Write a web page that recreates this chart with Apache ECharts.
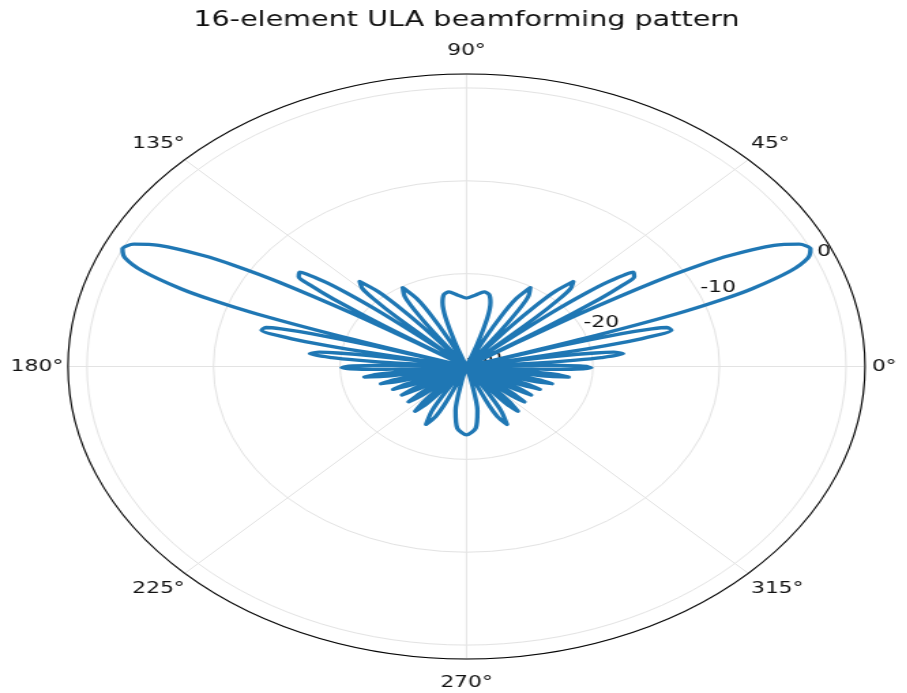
<!DOCTYPE html>
<html>
<head>
<meta charset="utf-8">
<script src="https://cdn.jsdelivr.net/npm/echarts@6/dist/echarts.min.js"></script>
<style>
  html, body { margin: 0; padding: 0; background: #ffffff; overflow: hidden; }
  #frame { width: 907px; height: 693px; overflow: hidden; position: relative; }
  /* the figure is drawn round and then widened to its elliptical aspect */
  #chart { width: 666px; height: 693px; transform: scaleX(1.3624); transform-origin: 0 0; }
</style>
</head>
<body>
<div id="frame"><div id="chart"></div></div>
<script>
// Compass ticks (degrees) and radial ticks (dB)
const angleTicks = [0, 45, 90, 135, 180, 225, 270, 315];
const radialTicks = [-30, -20, -10, 0];

// Array gain, upper half-plane: angle (deg) and level (dB, floored at -30)
const upperAngles = [
  0, 0.341, 0.938, 1.535, 2.730, 3.925, 4.524, 5.123, 6.322, 7.524,
  8.127, 8.731, 9.335, 9.940, 10.546, 11.154, 11.763, 12.374, 13.599, 14.830,
  15.448, 16.069, 16.691, 17.315, 17.690, 18.067, 18.820, 19.580, 20.340, 21.880,
  23.430, 25.000, 26.590, 28.200, 29.840, 30.675, 31.510, 32.351, 32.775, 33.203,
  33.920, 34.642, 35.371, 36.106, 37.598, 39.120, 39.894, 40.676, 41.469, 42.270,
  43.081, 43.904, 44.738, 45.585, 47.318, 49.108, 50.029, 50.967, 52.903, 54.930,
  55.983, 57.065, 59.330, 61.757, 63.045, 64.394, 67.312, 70.640, 72.530, 74.642,
  77.084, 80.104, 84.587, 90.000,
  95.413, 99.896, 102.916, 105.358, 107.470, 109.360, 112.688, 115.606, 116.955, 118.243,
  120.670, 122.935, 124.017, 125.070, 127.097, 129.033, 129.971, 130.892, 132.682, 134.415,
  135.262, 136.096, 136.919, 137.730, 138.531, 139.324, 140.106, 140.880, 142.402, 143.894,
  144.629, 145.358, 146.080, 146.797, 147.225, 147.649, 148.490, 149.325, 150.160, 151.800,
  153.410, 155.000, 156.570, 158.120, 159.660, 160.420, 161.180, 161.933, 162.310, 162.685,
  163.309, 163.931, 164.552, 165.170, 166.401, 167.626, 168.237, 168.846, 169.454, 170.060,
  170.665, 171.269, 171.873, 172.476, 173.678, 174.877, 175.476, 176.075, 177.270, 178.465,
  179.062, 179.659
];
const upperGainDb = [
  -20.49, -21.02, -22.59, -25.41, -30, -24.56, -21.31, -19.31, -17.55, -18.25,
  -19.71, -22.42, -27.81, -30, -27.13, -21.04, -17.64, -15.47, -13.34, -13.59,
  -14.80, -17.23, -22.31, -30, -25.60, -19.19, -12.58, -8.66, -5.92, -2.41,
  -0.58, 0, -0.58, -2.41, -5.92, -8.66, -12.58, -19.19, -25.60, -30,
  -22.31, -17.23, -14.80, -13.59, -13.34, -15.47, -17.64, -21.04, -27.13, -30,
  -27.81, -22.42, -19.71, -18.25, -17.55, -19.31, -21.31, -24.56, -30, -25.41,
  -22.59, -21.02, -20.13, -21.72, -23.63, -26.80, -30, -27.37, -24.49, -22.85,
  -22.03, -21.85, -22.26, -22.63,
  -22.26, -21.85, -22.03, -22.85, -24.49, -27.37, -30, -26.80, -23.63, -21.72,
  -20.13, -21.02, -22.59, -25.41, -30, -24.56, -21.31, -19.31, -17.55, -18.25,
  -19.71, -22.42, -27.81, -30, -27.13, -21.04, -17.64, -15.47, -13.34, -13.59,
  -14.80, -17.23, -22.31, -30, -25.60, -19.19, -12.58, -8.66, -5.92, -2.41,
  -0.58, 0, -0.58, -2.41, -5.92, -8.66, -12.58, -19.19, -25.60, -30,
  -22.31, -17.23, -14.80, -13.59, -13.34, -15.47, -17.64, -21.04, -27.13, -30,
  -27.81, -22.42, -19.71, -18.25, -17.55, -19.31, -21.31, -24.56, -30, -25.41,
  -22.59, -21.02
];

// Array gain, lower half-plane
const lowerAngles = [
  180, 180.853, 182.046, 182.644, 183.242, 184.438, 185.636, 186.250, 186.837, 188.041,
  189.248, 189.853, 190.460, 191.676, 192.898, 193.511, 194.126, 195.360, 196.601, 197.226,
  197.851, 199.110, 200.378, 201.016, 201.657, 202.947, 204.249, 204.906, 205.566, 206.896,
  208.243, 208.923, 209.607, 210.989, 212.392, 213.101, 213.818, 215.266, 216.742, 217.491,
  218.247, 219.783, 221.354, 222.154, 222.965, 224.618, 226.320, 227.192, 228.078, 229.897,
  231.786, 232.785, 233.760, 235.830, 238.017, 239.163, 240.348, 242.858, 245.604, 247.091,
  248.678, 252.247, 256.708, 259.619, 263.746, 270,
  276.254, 280.381, 283.292, 287.753, 291.322, 292.909, 294.396, 297.142, 299.652, 300.837,
  301.983, 304.170, 306.240, 307.215, 308.214, 310.103, 311.922, 312.808, 313.680, 315.382,
  317.035, 317.846, 318.646, 320.217, 321.753, 322.509, 323.258, 324.734, 326.182, 326.899,
  327.608, 329.011, 330.393, 331.077, 331.757, 333.104, 334.434, 335.094, 335.751, 337.053,
  338.343, 338.984, 339.622, 340.890, 342.149, 342.774, 343.399, 344.640, 345.874, 346.489,
  347.102, 348.324, 349.540, 350.147, 350.752, 351.959, 353.163, 353.750, 354.364, 355.562,
  356.758, 357.356, 357.954, 359.147, 360
];
const lowerGainDb = [
  -20.49, -20.13, -21.72, -23.63, -26.80, -30, -27.37, -24.49, -22.85, -21.85,
  -23.32, -25.19, -28.30, -30, -28.68, -25.76, -24.08, -22.99, -24.39, -26.22,
  -29.29, -30, -29.53, -26.57, -24.86, -23.70, -25.03, -26.83, -29.87, -30,
  -29.99, -27.00, -25.26, -24.04, -25.31, -27.08, -30, -30, -30, -27.08,
  -25.31, -24.04, -25.26, -27.00, -29.99, -30, -29.87, -26.83, -25.03, -23.70,
  -24.86, -26.57, -29.53, -30, -29.29, -26.22, -24.39, -22.99, -24.08, -25.76,
  -28.68, -30, -28.30, -25.19, -23.32, -22.63,
  -23.32, -25.19, -28.30, -30, -28.68, -25.76, -24.08, -22.99, -24.39, -26.22,
  -29.29, -30, -29.53, -26.57, -24.86, -23.70, -25.03, -26.83, -29.87, -30,
  -29.99, -27.00, -25.26, -24.04, -25.31, -27.08, -30, -30, -30, -27.08,
  -25.31, -24.04, -25.26, -27.00, -29.99, -30, -29.87, -26.83, -25.03, -23.70,
  -24.86, -26.57, -29.53, -30, -29.29, -26.22, -24.39, -22.99, -24.08, -25.76,
  -28.68, -30, -28.30, -25.19, -23.32, -21.85, -22.85, -24.49, -27.37, -30,
  -26.80, -23.63, -21.72, -20.13, -20.49
];

const FONT = 'DejaVu Sans';
const TEXT = '#111111';
const GRID = '#e3e3e3';
const CENTER = [342.4, 366.5];
const RADIUS = 292.5;
const R_MIN = radialTicks[0];
const R_MAX = 1.5;

const gainSeries = upperAngles.map((a, i) => [upperGainDb[i], a])
  .concat(lowerAngles.map((a, i) => [lowerGainDb[i], a]));

// per-label padding [top, right, bottom, left] for the compass labels
const labelPad = {
  0: [0, 0, 0, 5], 45: [0, 0, 8, 2], 90: [0, 0, 15, 0], 135: [0, 0, 8, 0],
  180: [0, 3.5, 0, 0], 225: [8, 0, 0, 0], 270: [16, 0, 0, 0], 315: [8, 0, 0, 2]
};
const rich = {};
angleTicks.forEach(t => {
  rich['a' + t] = { fontFamily: FONT, fontSize: 16, color: TEXT, padding: labelPad[t] };
});

const chart = echarts.init(document.getElementById('chart'), null, { renderer: 'canvas' });
chart.setOption({
  animation: false,
  backgroundColor: '#ffffff',
  title: {
    text: '16-element ULA beamforming pattern',
    left: CENTER[0],
    textAlign: 'center',
    top: 10,
    padding: 0,
    textStyle: { fontFamily: FONT, fontSize: 21, fontWeight: 'normal', color: TEXT }
  },
  polar: [
    { center: CENTER, radius: RADIUS },
    { center: CENTER, radius: RADIUS }
  ],
  angleAxis: [
    {
      polarIndex: 0,
      type: 'value',
      startAngle: 0,
      clockwise: false,
      min: 0,
      max: 360,
      interval: 45,
      z: 1,
      axisLine: { show: true, lineStyle: { color: '#000000', width: 1.1 } },
      axisTick: { show: false },
      splitLine: { show: true, lineStyle: { color: GRID, width: 1 } },
      axisLabel: {
        margin: 0,
        rich: rich,
        formatter: v => (angleTicks.indexOf(v) >= 0 ? '{a' + v + '|' + v + '°}' : '')
      }
    },
    {
      polarIndex: 1,
      type: 'value',
      startAngle: 22.5,
      clockwise: false,
      min: 0,
      max: 360,
      show: false
    }
  ],
  radiusAxis: [
    {
      polarIndex: 0,
      type: 'value',
      min: R_MIN,
      max: R_MAX,
      interval: 10,
      z: 0,
      axisLine: { show: false },
      axisTick: { show: false },
      axisLabel: { show: false },
      splitLine: { show: true, lineStyle: { color: GRID, width: 1 } }
    },
    {
      polarIndex: 1,
      type: 'value',
      min: R_MIN,
      max: R_MAX,
      interval: 10,
      z: 1,
      axisLine: { show: false },
      axisTick: { show: false },
      splitLine: { show: false },
      axisLabel: {
        margin: 0,
        align: 'left',
        verticalAlign: 'bottom',
        fontFamily: FONT,
        fontSize: 16,
        color: TEXT,
        formatter: v => (radialTicks.indexOf(v) >= 0 ? String(v) : '')
      }
    }
  ],
  series: [
    {
      type: 'line',
      coordinateSystem: 'polar',
      polarIndex: 0,
      z: 5,
      data: gainSeries,
      showSymbol: false,
      symbol: 'none',
      smooth: 0.25,
      lineStyle: { color: '#1f77b4', width: 3.3, join: 'round', cap: 'round' }
    }
  ]
});
</script>
</body>
</html>
